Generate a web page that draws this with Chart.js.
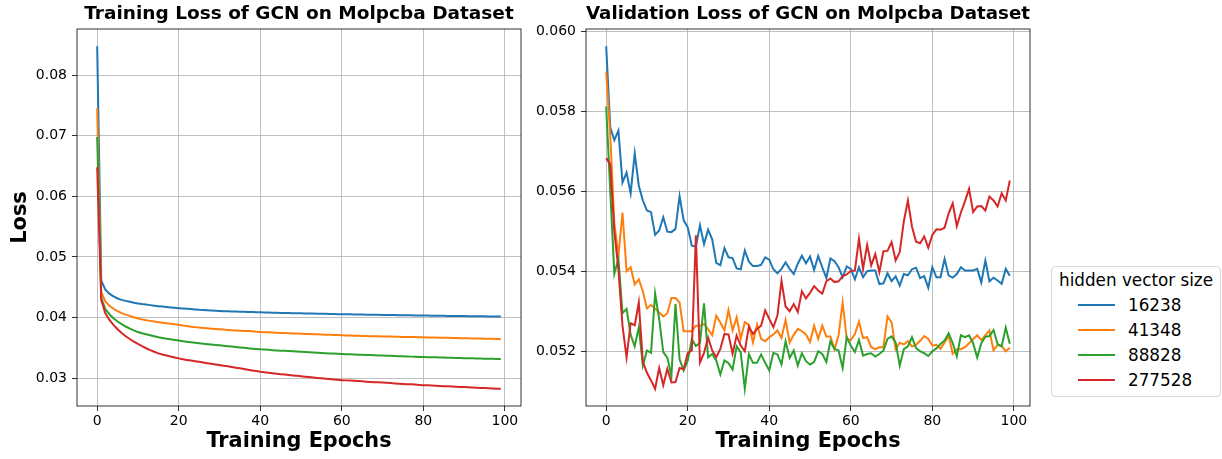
<!DOCTYPE html>
<html>
<head>
<meta charset="utf-8">
<script src="https://cdn.jsdelivr.net/npm/chart.js@4.4.1/dist/chart.umd.min.js"></script>
<style>
    body { margin: 0; background: #fff; width: 1222px; height: 459px; overflow: hidden; position: relative; font-family: 'DejaVu Sans', sans-serif; }
    canvas { position: absolute; top: 0; }
    #legend { position: absolute; left: 1051px; top: 266px; width: 170px; height: 131px; box-sizing: border-box;
              border: 1px solid #d6d6d6; border-radius: 4px; background: #fff; font-size: 16.8px; color: #000; }
    #legend .lt { position: absolute; top: 3px; left: 0; right: 0; text-align: center; line-height: 20px; }
    #legend .row { position: absolute; left: 0; right: 0; height: 25px; line-height: 25px; }
    #legend .sw { position: absolute; left: 26px; top: 11.5px; width: 37px; height: 2px; }
    #legend .txt { position: absolute; left: 76px; }
</style>
</head>
<body>
<canvas id="trainChart" width="530" height="459" style="left:0"></canvas>
<canvas id="valChart" width="510" height="459" style="left:530px"></canvas>
<div id="legend"></div>

<script>
// hidden vector sizes (one line per size)
const sizes = ["16238", "41348", "88828", "277528"];
const colors = ["#1f77b4", "#ff7f0e", "#2ca02c", "#d62728"];
const epochs = Array.from({ length: 100 }, (_, i) => i);

const xTicks = [0, 20, 40, 60, 80, 100];
const trainYTicks = [0.03, 0.04, 0.05, 0.06, 0.07, 0.08];
const valYTicks = [0.052, 0.054, 0.056, 0.058, 0.060];

// training loss
const train16238 = [
    0.0848, 0.0461, 0.0446, 0.04395, 0.0435, 0.04315, 0.04292, 0.04275, 0.0426, 0.04245,
    0.04232, 0.04222, 0.04214, 0.04205, 0.04196, 0.04188, 0.04181, 0.04174, 0.04167, 0.04161,
    0.04155, 0.0415, 0.04145, 0.0414, 0.04134, 0.04128, 0.04124, 0.0412, 0.04116, 0.04112,
    0.04109, 0.04106, 0.04103, 0.041, 0.04098, 0.04096, 0.04094, 0.04092, 0.0409, 0.04089,
    0.04087, 0.04085, 0.04083, 0.04081, 0.04079, 0.04077, 0.04076, 0.04074, 0.04072, 0.04071,
    0.04069, 0.04068, 0.04067, 0.04065, 0.04064, 0.04062, 0.04061, 0.04059, 0.04057, 0.04056,
    0.04055, 0.04054, 0.04053, 0.04052, 0.0405, 0.04049, 0.04048, 0.04047, 0.04046, 0.04045,
    0.04044, 0.04043, 0.04042, 0.04041, 0.0404, 0.04039, 0.04038, 0.04037, 0.04035, 0.04034,
    0.04033, 0.04032, 0.04031, 0.0403, 0.04029, 0.04028, 0.04027, 0.04026, 0.04026, 0.04025,
    0.04024, 0.04023, 0.04022, 0.04022, 0.04021, 0.0402, 0.04019, 0.04018, 0.04018, 0.04017
];
const train41348 = [
    0.0745, 0.0442, 0.04265, 0.04195, 0.04145, 0.04105, 0.04072, 0.04048, 0.04028, 0.04005,
    0.03985, 0.0397, 0.03956, 0.03945, 0.03934, 0.03924, 0.03914, 0.03905, 0.03896, 0.03888,
    0.0388, 0.0387, 0.0386, 0.0385, 0.03842, 0.03834, 0.03828, 0.03822, 0.03816, 0.03811,
    0.03806, 0.03801, 0.03796, 0.03792, 0.03788, 0.03784, 0.0378, 0.03776, 0.03772, 0.03767,
    0.03763, 0.03759, 0.03756, 0.03753, 0.0375, 0.03747, 0.03744, 0.03741, 0.03738, 0.03736,
    0.03733, 0.0373, 0.03728, 0.03725, 0.03723, 0.0372, 0.03718, 0.03715, 0.03713, 0.0371,
    0.03707, 0.03705, 0.03703, 0.03701, 0.03699, 0.03697, 0.03695, 0.03693, 0.03692, 0.0369,
    0.03689, 0.03687, 0.03686, 0.03684, 0.03683, 0.03681, 0.0368, 0.03678, 0.03677, 0.03675,
    0.03674, 0.03672, 0.03671, 0.03669, 0.03668, 0.03666, 0.03665, 0.03663, 0.03662, 0.0366,
    0.03659, 0.03658, 0.03656, 0.03655, 0.03653, 0.03652, 0.0365, 0.03649, 0.03647, 0.03646
];
const train88828 = [
    0.0698, 0.0432, 0.0414, 0.04055, 0.0399, 0.03934, 0.03892, 0.03852, 0.03818, 0.03787,
    0.0376, 0.03742, 0.03724, 0.03707, 0.0369, 0.03674, 0.03662, 0.03651, 0.0364, 0.0363,
    0.0362, 0.0361, 0.03601, 0.03592, 0.03583, 0.03575, 0.03568, 0.03561, 0.03554, 0.03547,
    0.03541, 0.03534, 0.03528, 0.03521, 0.03514, 0.03507, 0.035, 0.03493, 0.03487, 0.03481,
    0.03475, 0.03471, 0.03467, 0.03462, 0.03458, 0.03454, 0.0345, 0.03446, 0.03442, 0.03438,
    0.03434, 0.0343, 0.03427, 0.03423, 0.03419, 0.03416, 0.03412, 0.03408, 0.03405, 0.03401,
    0.03398, 0.03395, 0.03393, 0.0339, 0.03388, 0.03385, 0.03383, 0.0338, 0.03378, 0.03375,
    0.03373, 0.0337, 0.03368, 0.03365, 0.03363, 0.0336, 0.03358, 0.03355, 0.03353, 0.0335,
    0.03348, 0.03346, 0.03344, 0.03343, 0.03341, 0.03339, 0.03337, 0.03336, 0.03334, 0.03332,
    0.0333, 0.03328, 0.03327, 0.03325, 0.03323, 0.03321, 0.0332, 0.03318, 0.03316, 0.03315
];
const train277528 = [
    0.0648, 0.0429, 0.0407, 0.0396, 0.0388, 0.03807, 0.03745, 0.03692, 0.03646, 0.03603,
    0.03564, 0.03527, 0.03493, 0.03463, 0.03435, 0.03409, 0.03391, 0.03374, 0.03357, 0.03341,
    0.03326, 0.03313, 0.03301, 0.0329, 0.0328, 0.0327, 0.03258, 0.03247, 0.03236, 0.03226,
    0.03216, 0.03206, 0.03195, 0.03184, 0.03173, 0.03162, 0.0315, 0.03138, 0.03127, 0.03116,
    0.03105, 0.03097, 0.03089, 0.03081, 0.03074, 0.03066, 0.03059, 0.03052, 0.03045, 0.03038,
    0.03031, 0.03024, 0.03017, 0.0301, 0.03003, 0.02997, 0.0299, 0.02984, 0.02978, 0.02972,
    0.02967, 0.02963, 0.02959, 0.02955, 0.02951, 0.02947, 0.02942, 0.02938, 0.02934, 0.0293,
    0.02926, 0.02922, 0.02918, 0.02913, 0.02909, 0.02905, 0.02901, 0.02897, 0.02893, 0.02888,
    0.02884, 0.02881, 0.02878, 0.02874, 0.02871, 0.02868, 0.02865, 0.02862, 0.02858, 0.02855,
    0.02852, 0.02849, 0.02846, 0.02842, 0.02839, 0.02836, 0.02833, 0.0283, 0.02826, 0.02823
];

// validation loss
const val16238 = [
    0.05963, 0.0576, 0.05728, 0.05752, 0.05622, 0.05647, 0.05595, 0.05695, 0.05614, 0.05577,
    0.05552, 0.05548, 0.05491, 0.05502, 0.05535, 0.05499, 0.05498, 0.05506, 0.05588, 0.05528,
    0.0551, 0.05464, 0.05462, 0.05515, 0.05468, 0.05504, 0.0548, 0.05421, 0.05415, 0.05458,
    0.05435, 0.05433, 0.05407, 0.05405, 0.05452, 0.05424, 0.05413, 0.05413, 0.05416, 0.05435,
    0.05429, 0.05405, 0.05395, 0.05406, 0.05422, 0.05406, 0.05393, 0.05419, 0.05439, 0.0542,
    0.05437, 0.05403, 0.05438, 0.0541, 0.05383, 0.05432, 0.05425, 0.0541, 0.05385, 0.05412,
    0.05406, 0.0538, 0.0541, 0.05385, 0.054, 0.05402, 0.05402, 0.05368, 0.0537, 0.05395,
    0.05375, 0.05387, 0.05364, 0.05393, 0.0539, 0.05405, 0.05409, 0.05383, 0.05388, 0.05359,
    0.0541, 0.05385, 0.05385, 0.05431, 0.05389, 0.05384, 0.05393, 0.0541, 0.05402, 0.05402,
    0.05402, 0.05406, 0.05372, 0.05427, 0.05375, 0.05384, 0.05377, 0.05369, 0.05406, 0.05389
];
const val41348 = [
    0.05898, 0.0574, 0.0552, 0.05439, 0.05547, 0.054, 0.0541, 0.05367, 0.0538, 0.0535,
    0.05307, 0.05316, 0.05306, 0.05297, 0.05287, 0.05295, 0.05333, 0.05333, 0.05322, 0.0525,
    0.0525, 0.0525, 0.05264, 0.05264, 0.05268, 0.05255, 0.0524, 0.05289, 0.05272, 0.05252,
    0.05303, 0.05252, 0.05285, 0.05231, 0.05273, 0.05266, 0.05222, 0.05267, 0.05231, 0.05225,
    0.05235, 0.05242, 0.05252, 0.05233, 0.05278, 0.05222, 0.05241, 0.05256, 0.0525, 0.05242,
    0.05223, 0.05264, 0.05231, 0.05264, 0.05237, 0.05237, 0.05205, 0.0524, 0.05322, 0.05231,
    0.05228, 0.05243, 0.05274, 0.05233, 0.05235, 0.0521, 0.05205, 0.0521, 0.0521, 0.05287,
    0.05272, 0.05205, 0.05221, 0.05217, 0.05225, 0.05212, 0.05216, 0.05226, 0.05238, 0.05231,
    0.05214, 0.05216, 0.05206, 0.05222, 0.05238, 0.05194, 0.05205, 0.05205, 0.0521, 0.0522,
    0.0523, 0.0524, 0.05228, 0.0524, 0.05252, 0.05202, 0.05216, 0.05213, 0.052, 0.05209
];
const val88828 = [
    0.05812, 0.056, 0.05394, 0.05431, 0.05295, 0.05306, 0.05241, 0.05212, 0.0526, 0.05164,
    0.05202, 0.05196, 0.05344, 0.0528, 0.05198, 0.05184, 0.05139, 0.05318, 0.0518, 0.05152,
    0.05176, 0.0523, 0.05213, 0.05221, 0.0532, 0.05185, 0.05193, 0.05177, 0.05142, 0.05177,
    0.0517, 0.05154, 0.05212, 0.05197, 0.05106, 0.05193, 0.05171, 0.05171, 0.05192, 0.05171,
    0.05152, 0.05196, 0.05192, 0.05167, 0.05225, 0.05183, 0.05202, 0.05164, 0.05195, 0.05175,
    0.05167, 0.05173, 0.052, 0.05193, 0.05173, 0.05225, 0.05206, 0.05202, 0.05158, 0.05235,
    0.05214, 0.05198, 0.05228, 0.05189, 0.05193, 0.05195, 0.05187, 0.05193, 0.05202, 0.05231,
    0.05237, 0.05222, 0.05164, 0.05205, 0.05212, 0.05235, 0.05208, 0.052, 0.05195, 0.05188,
    0.052, 0.05207, 0.05218, 0.05227, 0.05245, 0.0522, 0.05187, 0.0524, 0.05235, 0.0524,
    0.0522, 0.05184, 0.0522, 0.05236, 0.05238, 0.05253, 0.05218, 0.05212, 0.05259, 0.05219
];
const val277528 = [
    0.05683, 0.05668, 0.055, 0.05405, 0.05264, 0.05184, 0.0527, 0.05265, 0.05322, 0.05173,
    0.05146, 0.05127, 0.05106, 0.05158, 0.05115, 0.05156, 0.05122, 0.05123, 0.05158, 0.05155,
    0.05195, 0.05202, 0.0549, 0.05172, 0.05196, 0.05234, 0.05202, 0.05185, 0.05206, 0.05243,
    0.05242, 0.05194, 0.05239, 0.05214, 0.052, 0.05262, 0.05243, 0.05256, 0.05264, 0.05302,
    0.05281, 0.0526, 0.05289, 0.05376, 0.05312, 0.053, 0.05318, 0.05298, 0.0535, 0.05332,
    0.05346, 0.05363, 0.05352, 0.05344, 0.05375, 0.05382, 0.05373, 0.05375, 0.05388, 0.05392,
    0.05401, 0.05402, 0.05481, 0.05406, 0.05466, 0.05415, 0.05443, 0.05398, 0.0545, 0.05451,
    0.05473, 0.05427, 0.05448, 0.05525, 0.05577, 0.05512, 0.05474, 0.0547, 0.05487, 0.05459,
    0.05491, 0.05505, 0.05504, 0.05509, 0.05545, 0.0557, 0.05513, 0.05547, 0.05575, 0.05606,
    0.05548, 0.05562, 0.05563, 0.05552, 0.05587, 0.05577, 0.05562, 0.05595, 0.05577, 0.05627
];

Chart.defaults.font.family = "'DejaVu Sans', sans-serif";
Chart.defaults.color = "#000";

// black box around the plotting area (matplotlib spines)
const frame = {
    id: "frame",
    afterDatasetsDraw(chart) {
        const { ctx, chartArea: a } = chart;
        ctx.save();
        ctx.strokeStyle = "#000";
        ctx.lineWidth = 0.8;
        ctx.strokeRect(a.left, a.top, a.right - a.left, a.bottom - a.top);
        ctx.restore();
    },
};

const gridStyle = { color: "#b0b0b0", lineWidth: 0.8, tickLength: 5, tickColor: "#000", tickWidth: 0.8 };

function makeChart(id, title, series, yRange, yTicks, decimals, yWidth, rightPad, yTitle) {
    return new Chart(document.getElementById(id), {
        type: "line",
        data: {
            labels: epochs,
            datasets: series.map((values, i) => ({
                label: sizes[i],
                data: values,
                borderColor: colors[i],
                backgroundColor: colors[i],
                borderWidth: 2,
                pointRadius: 0,
                tension: 0,
                fill: false,
                order: series.length - i, // last series on top, like matplotlib
            })),
        },
        options: {
            responsive: false,
            animation: false,
            devicePixelRatio: 1,
            layout: { padding: { left: 0, top: 0, right: rightPad, bottom: 0 } },
            plugins: {
                legend: { display: false },
                tooltip: { enabled: false },
                title: {
                    display: true,
                    text: title,
                    fullSize: false,
                    color: "#000",
                    font: { size: 18.5, weight: "bold" },
                    padding: { top: 3.5, bottom: 3.3 },
                },
            },
            scales: {
                x: {
                    type: "linear",
                    min: -4.95,
                    max: 103.95,
                    afterBuildTicks: (s) => { s.ticks = xTicks.map((v) => ({ value: v })); },
                    afterFit: (s) => { s.height = 53; },
                    ticks: { font: { size: 14 }, padding: 2, maxRotation: 0, color: "#000" },
                    grid: gridStyle,
                    border: { display: false },
                    title: {
                        display: true,
                        text: "Training Epochs",
                        color: "#000",
                        font: { size: 20.8, weight: "bold" },
                        padding: { top: 0, bottom: 4.5 },
                    },
                },
                y: {
                    min: yRange[0],
                    max: yRange[1],
                    afterBuildTicks: (s) => { s.ticks = yTicks.map((v) => ({ value: v })); },
                    afterFit: (s) => { s.width = yWidth; },
                    ticks: { font: { size: 14 }, padding: 5, color: "#000", callback: (v) => v.toFixed(decimals) },
                    grid: gridStyle,
                    border: { display: false },
                    title: {
                        display: !!yTitle,
                        text: yTitle || "",
                        color: "#000",
                        font: { size: 20.8, weight: "bold" },
                        padding: { top: 8.5, bottom: 0 },
                    },
                },
            },
        },
        plugins: [frame],
    });
}

const trainChart = makeChart("trainChart", "Training Loss of GCN on Molpcba Dataset",
    [train16238, train41348, train88828, train277528], [0.0254, 0.08763], trainYTicks, 2, 77, 9, "Loss");

const valChart = makeChart("valChart", "Validation Loss of GCN on Molpcba Dataset",
    [val16238, val41348, val88828, val277528], [0.05063, 0.06006], valYTicks, 3, 56, 10, null);

// legend shared by both panels, placed to the right like the original figure
const legend = document.getElementById("legend");
legend.innerHTML = '<div class="lt">hidden vector size</div>' +
    valChart.data.datasets.map((d, i) =>
        `<div class="row" style="top:${25.5 + i * 25}px"><span class="sw" style="background:${d.borderColor}"></span><span class="txt">${d.label}</span></div>`
    ).join("");
</script>
</body>
</html>
